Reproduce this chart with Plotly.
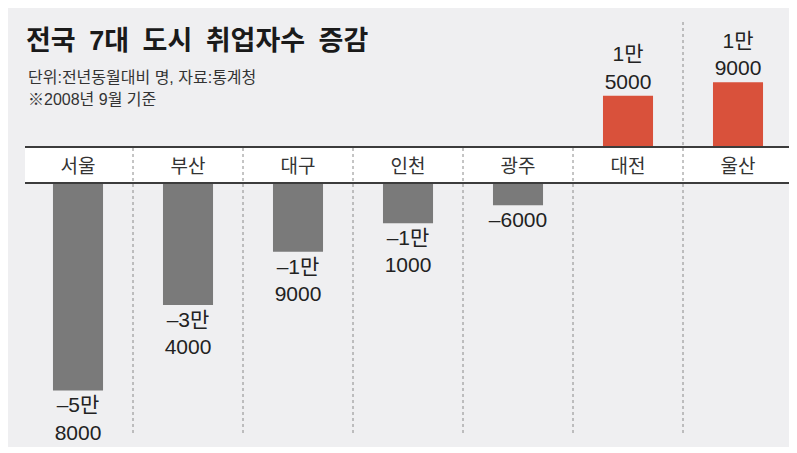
import plotly.graph_objects as go

# 2008년 9월 기준, 전년동월대비 취업자수 증감 (명)
cities = ['서울', '부산', '대구', '인천', '광주', '대전', '울산']
changes = [-58000, -34000, -19000, -11000, -6000, 15000, 19000]

title_text = '전국\u20027대\u2002도시\u2002취업자수\u2002증감'
source_text = '단위:전년동월대비 명, 자료:통계청'
basis_text = '※2008년 9월 기준'

# the page body has an 8px margin, so the figure is drawn 8px in from the corner
OFF = 8
W, H = 797 - OFF, 453 - OFF
FONT = 'Liberation Sans, Noto Sans CJK KR'


def px_x(px):
    return (px - OFF) / W


def py(px):
    # pixel row of the window -> paper y
    return 1 - (px - OFF) / H


def fmt(v):
    sign = '–' if v < 0 else ''
    man, rest = divmod(abs(v), 10000)
    if man == 0:
        return f'{sign}{rest}'
    return f'{sign}{man}만<br>{rest:04d}'


pos_x = [c for c, v in zip(cities, changes) if v > 0]
pos_y = [v for v in changes if v > 0]
neg_x = [c for c, v in zip(cities, changes) if v < 0]
neg_y = [v for v in changes if v < 0]

fig = go.Figure()

fig.add_trace(go.Bar(
    x=pos_x, y=pos_y, xaxis='x', yaxis='y',
    marker=dict(color='#d9513b', line=dict(width=0)),
    width=0.455,
    text=[fmt(v) for v in pos_y], textposition='outside',
    textfont=dict(size=21, color='#222222', family=FONT),
    constraintext='none', cliponaxis=False, hoverinfo='skip',
))
fig.add_trace(go.Bar(
    x=neg_x, y=neg_y, xaxis='x', yaxis='y2',
    marker=dict(color='#7a7a7a', line=dict(width=0)),
    width=0.455,
    text=[fmt(v) for v in neg_y], textposition='outside',
    textfont=dict(size=21, color='#222222', family=FONT),
    constraintext='none', cliponaxis=False, hoverinfo='skip',
))

shapes = [
    # light gray panel
    dict(type='rect', xref='paper', yref='paper', x0=0, x1=px_x(791),
         y0=py(447), y1=1, fillcolor='#efeff1', line_width=0, layer='below'),
    # white category band
    dict(type='rect', xref='paper', yref='paper', x0=px_x(25), x1=px_x(790),
         y0=py(183), y1=py(147), fillcolor='white', line_width=0, layer='below'),
    dict(type='line', xref='paper', yref='paper', x0=px_x(25), x1=px_x(790),
         y0=py(147), y1=py(147), line=dict(color='#3c3c3c', width=2)),
    dict(type='line', xref='paper', yref='paper', x0=px_x(25), x1=px_x(790),
         y0=py(183), y1=py(183), line=dict(color='#3c3c3c', width=2)),
]
# dotted separators between cities
for i in range(len(cities) - 1):
    top = 22 if i == len(cities) - 2 else 148
    shapes.append(dict(type='line', xref='x', yref='paper', x0=i + 0.5, x1=i + 0.5,
                       y0=py(433), y1=py(top),
                       line=dict(color='#8a8a8a', width=1, dash='dot'), layer='below'))

annotations = [
    dict(text=source_text, xref='paper', yref='paper', x=px_x(26), y=py(77),
         xanchor='left', yanchor='middle', showarrow=False,
         font=dict(size=16, color='#333333', family=FONT)),
    dict(text=basis_text, xref='paper', yref='paper', x=px_x(26), y=py(99),
         xanchor='left', yanchor='middle', showarrow=False,
         font=dict(size=16, color='#333333', family=FONT)),
]

# category centres sit at 78 + 110*i px in the window
x_lo = (OFF - 78) / 110
x_hi = (797 - 78) / 110

fig.update_layout(
    width=W, height=H,
    margin=dict(l=0, r=0, t=0, b=0),
    paper_bgcolor='white', plot_bgcolor='rgba(0,0,0,0)',
    showlegend=False, barmode='overlay',
    title=dict(text='<b>' + title_text + '</b>', x=px_x(26), xanchor='left',
               y=py(41), yanchor='middle',
               font=dict(size=27, color='#1a1a1a', family=FONT)),
    xaxis=dict(type='category', categoryorder='array', categoryarray=cities,
               range=[x_lo, x_hi], anchor='free', position=py(147),
               showgrid=False, zeroline=False, showline=False, ticks='',
               ticklabelstandoff=6,
               tickfont=dict(size=19, color='#333333', family=FONT),
               automargin=False, fixedrange=True),
    yaxis=dict(domain=[py(146), 1], range=[0, (146 - OFF) / 3.35 * 1000], visible=False,
               showgrid=False, zeroline=False, fixedrange=True),
    yaxis2=dict(domain=[0, py(184)], range=[-(453 - 184) / 3.56 * 1000, 0], anchor='x',
                visible=False, showgrid=False, zeroline=False, fixedrange=True),
    shapes=shapes, annotations=annotations,
)

fig.write_html('out.html')
